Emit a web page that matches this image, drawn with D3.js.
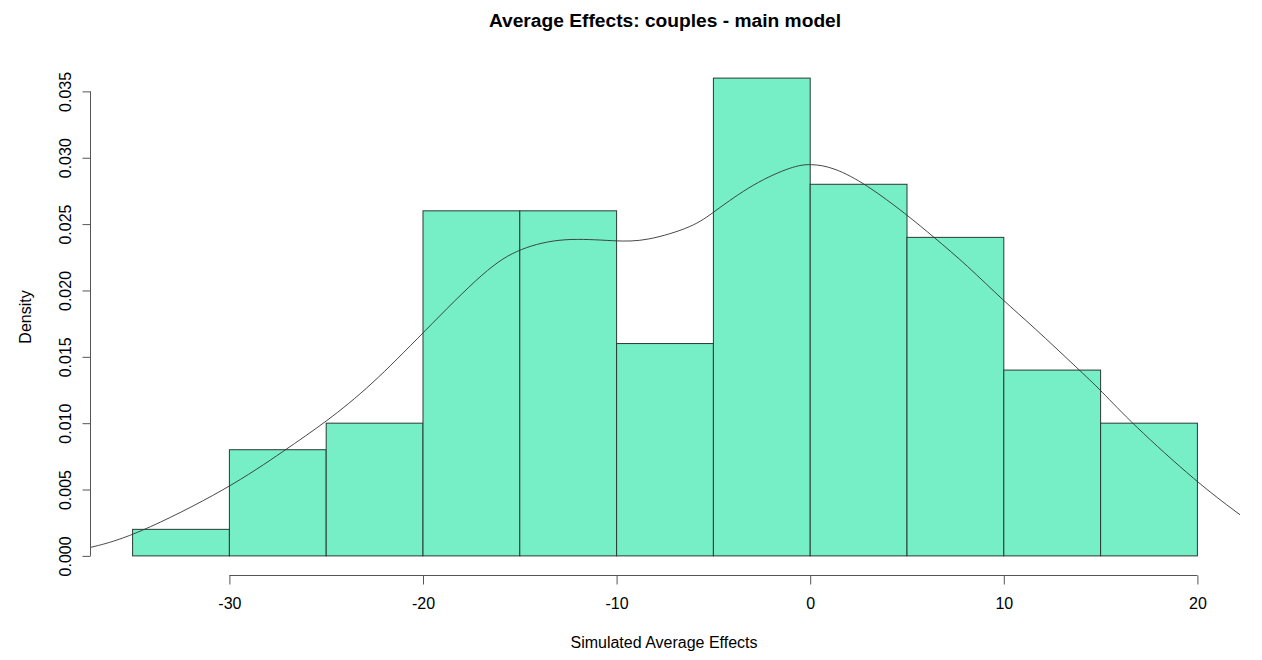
<!DOCTYPE html>
<html>
<head>
<meta charset="utf-8">
<script src="https://cdn.jsdelivr.net/npm/d3@7"></script>
<style>
  html, body { margin: 0; padding: 0; background: #fff; }
  svg { display: block; font-family: "Liberation Sans", Arial, sans-serif; }
</style>
</head>
<body>
<svg id="chart" width="1262" height="660"></svg>
<script>
// Histogram bins (bin edges, width 5) and their densities
const binStarts = [-35, -30, -25, -20, -15, -10, -5, 0, 5, 10, 15];
const binWidth = 5;
const binDensity = [0.002, 0.008, 0.010, 0.026, 0.026, 0.016, 0.036, 0.028, 0.024, 0.014, 0.010];

// Kernel density estimate, sampled along x
const kdeX = [-37.2, -35.0, -30.0, -27.1, -25.0, -22.7, -20.0, -16.7, -15.0, -12.75, -10.0, -8.5,
              -6.0, -5.0, -2.9, -0.9, 0.0, 1.2, 2.9, 5.0, 6.4, 8.1, 10.0, 11.5, 13.9, 15.0, 16.6,
              20.0, 22.2];
const kdeY = [0.00063, 0.00143, 0.0051, 0.0080, 0.0101, 0.0128, 0.0168, 0.0217, 0.0232, 0.0240,
              0.0237, 0.0237, 0.0248, 0.0259, 0.0281, 0.02937, 0.02955, 0.0293, 0.0280, 0.0257,
              0.0240, 0.0219, 0.0192, 0.0173, 0.0140, 0.0125, 0.0100, 0.0055, 0.0031];

// Axis ticks
const xTicks = [-30, -20, -10, 0, 10, 20];
const yTicks = [0, 0.005, 0.010, 0.015, 0.020, 0.025, 0.030, 0.035];

const titleText = "Average Effects: couples - main model";
const xLabel = "Simulated Average Effects";
const yLabel = "Density";

const svg = d3.select("#chart");

// Plot region (data range padded by 4% on each side)
const x = d3.scaleLinear().domain([-37.2, 22.2]).range([90, 1240]);
const y = d3.scaleLinear().domain([-0.00144, 0.03744]).range([575, 59]);

// Bars
svg.append("g")
  .selectAll("rect")
  .data(binStarts.map((s, i) => ({ x0: s, x1: s + binWidth, d: binDensity[i] })))
  .join("rect")
  .attr("x", d => x(d.x0))
  .attr("y", d => y(d.d))
  .attr("width", d => x(d.x1) - x(d.x0))
  .attr("height", d => y(0) - y(d.d))
  .attr("fill", "#76EEC6")
  .attr("stroke", "#2a3a34")
  .attr("stroke-width", 1);

// Density curve
const line = d3.line()
  .x((d, i) => x(kdeX[i]))
  .y(d => y(d))
  .curve(d3.curveBasis);
svg.append("path")
  .attr("d", line(kdeY))
  .attr("fill", "none")
  .attr("stroke", "#333")
  .attr("stroke-width", 0.9);

// X axis
const xAxis = d3.axisBottom(x)
  .tickValues(xTicks)
  .tickFormat(d3.format("d"))
  .tickSize(9)
  .tickSizeOuter(0)
  .tickPadding(13);
const gx = svg.append("g")
  .attr("transform", "translate(0,575.5)")
  .call(xAxis);
gx.select(".domain").attr("d", `M${x(-30)},0H${x(20)}`).attr("stroke", "#555");
gx.selectAll(".tick line").attr("stroke", "#555");
gx.selectAll(".tick text")
  .attr("font-size", 16)
  .attr("fill", "#000")
  .attr("font-family", "Liberation Sans, Arial, sans-serif")
  .text(d => d < 0 ? "-" + Math.abs(d) : d);

// Y axis
const yAxis = d3.axisLeft(y)
  .tickValues(yTicks)
  .tickFormat(d3.format(".3f"))
  .tickSize(8)
  .tickSizeOuter(0)
  .tickPadding(0);
const gy = svg.append("g")
  .attr("transform", "translate(90.5,0)")
  .call(yAxis);
gy.select(".domain").attr("d", `M0,${y(0)}V${y(0.035)}`).attr("stroke", "#555");
gy.selectAll(".tick line").attr("stroke", "#555");
gy.selectAll(".tick text")
  .attr("font-size", 16)
  .attr("fill", "#000")
  .attr("font-family", "Liberation Sans, Arial, sans-serif")
  .attr("x", 0)
  .attr("dy", 0)
  .attr("text-anchor", "middle")
  .attr("transform", "translate(-20,0) rotate(-90)");

// Title and axis labels
svg.append("text")
  .attr("x", 665).attr("y", 27)
  .attr("text-anchor", "middle")
  .attr("font-size", 19.2)
  .attr("font-weight", "bold")
  .text(titleText);

svg.append("text")
  .attr("x", 664).attr("y", 648)
  .attr("text-anchor", "middle")
  .attr("font-size", 16)
  .text(xLabel);

svg.append("text")
  .attr("transform", "translate(31,317) rotate(-90)")
  .attr("text-anchor", "middle")
  .attr("font-size", 16)
  .text(yLabel);
</script>
</body>
</html>
